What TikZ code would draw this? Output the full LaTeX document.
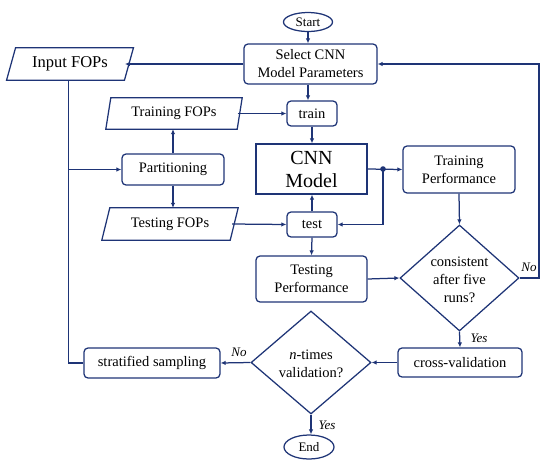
\documentclass[tikz,border=0pt]{standalone}
\usepackage{fontspec}
\setmainfont{Liberation Serif}
\usetikzlibrary{shapes.geometric,arrows.meta}
\definecolor{lc}{RGB}{30,52,118}
\tikzset{
  base/.style={draw=lc, line width=1.25pt, align=center, inner sep=0pt, text=black},
  rbox/.style={base, rounded corners=4pt},
  sbox/.style={base},
  oval/.style={base, ellipse},
  dia/.style={draw=lc, line width=1.25pt, diamond, inner sep=0pt},
  parabox/.style={align=center, inner sep=0pt},
  line/.style={draw=lc, line width=1.25pt},
  arr/.style={line, -{Latex[length=5pt,width=4.5pt]}},
  lab/.style={font=\fontsize{13}{15}\selectfont\itshape, inner sep=1pt},
  txt/.style={font=\fontsize{14.5}{18}\selectfont}
}
\begin{document}
\begin{tikzpicture}[x=1pt,y=-1pt]
\useasboundingbox (0,0) rectangle (550,467);
% nodes
\node[oval, minimum width=49, minimum height=19, font=\fontsize{13}{15}\selectfont] (start) at (308,22) {Start};
\node[rbox, txt, minimum width=133, minimum height=40] (sel) at (310.5,64) {Select CNN\\Model Parameters};
\node[parabox, minimum width=117.5, minimum height=32, font=\fontsize{16.5}{19}\selectfont] (inp) at (70,64) {Input FOPs};
\node[parabox, txt, minimum width=131, minimum height=31] (trf) at (174,113.5) {Training FOPs};
\node[parabox, txt, minimum width=128, minimum height=32] (tsf) at (170,224) {Testing FOPs};
\node[rbox, txt, minimum width=50, minimum height=25] (train) at (312,113.5) {train};
\node[sbox, minimum width=111, minimum height=50, font=\fontsize{20}{23}\selectfont] (cnn) at (311.5,169) {CNN\\Model};
\node[rbox, txt, minimum width=102, minimum height=31] (part) at (173,169.5) {Partitioning};
\node[rbox, txt, minimum width=50, minimum height=25] (test) at (312,224.5) {test};
\node[rbox, txt, minimum width=112, minimum height=47] (trp) at (459,169.5) {Training\\Performance};
\node[rbox, txt, minimum width=111, minimum height=46] (tsp) at (311.5,279) {Testing\\Performance};
\node[dia, minimum width=119, minimum height=106] (d1) at (459.5,278) {};
\node[txt, align=center, inner sep=0pt] (d1t) at (459.5,280) {consistent\\after five\\runs?};
\node[rbox, txt, minimum width=124, minimum height=29] (cv) at (460,362.5) {cross-validation};
\node[dia, minimum width=120, minimum height=103] (d2) at (311,362.5) {};
\node[txt, align=center, inner sep=0pt] (d2t) at (311,364) {\textit{n}-times\\validation?};
\node[rbox, txt, minimum width=136, minimum height=30] (ss) at (152,363) {stratified sampling};
\node[oval, minimum width=50, minimum height=24, font=\fontsize{13}{15}\selectfont] (end) at (309,447) {End};
% parallelograms
\draw[line] ([xshift=4.5pt]inp.north west) -- ([xshift=4.5pt]inp.north east) -- ([xshift=-4.5pt]inp.south east) -- ([xshift=-4.5pt]inp.south west) -- cycle;
\draw[line] ([xshift=2.5pt]trf.north west) -- ([xshift=2.5pt]trf.north east) -- ([xshift=-2.5pt]trf.south east) -- ([xshift=-2.5pt]trf.south west) -- cycle;
\draw[line] ([xshift=4pt]tsf.north west) -- ([xshift=4pt]tsf.north east) -- ([xshift=-4pt]tsf.south east) -- ([xshift=-4pt]tsf.south west) -- cycle;
% coordinates
\coordinate (dot) at (383,169);
\coordinate (rr) at (539,278);
\coordinate (ll) at (68.5,363);
% connectors
\draw[arr] (start.south) -- (start.south |- sel.north);
\draw[arr] (sel.west) -- ([xshift=-4pt]inp.east);
\draw[arr] (sel.south -| start.south) -- (start.south |- train.north);
\draw[arr] (train.south) -- (train.south |- cnn.north);
\draw[arr] (test.north) -- (test.north |- cnn.south);
\draw[arr] ([xshift=-2pt]trf.east) -- (train.west);
\draw[arr] ([xshift=-2pt]tsf.east) -- (test.west);
\draw[arr] (part.north) -- (part.north |- trf.south);
\draw[arr] (part.south) -- (part.south |- tsf.north);
\draw[line] (ll |- inp.south) -- (ll) -- (ss.west);
\draw[arr] (ll |- part.west) -- (part.west);
\draw[arr] (cnn.east) -- (trp.west);
\fill[lc] (dot) circle (2.8pt);
\draw[arr] (dot) |- (test.east);
\draw[arr] (trp.south) -- (d1.north);
\draw[arr] (test.south) -- (tsp.north);
\draw[arr] (tsp.east) -- (d1.west);
\draw[arr] (d1.east) -- (rr) |- (sel.east);
\draw[arr] (d1.south) -- (cv.north);
\draw[arr] (cv.west) -- (d2.east);
\draw[arr] (d2.west) -- (ss.east);
\draw[arr] (d2.south) -- (d2.south |- end.north);
% labels
\node[lab] (no1) at (529,267) {No};
\node[lab] (yes1) at (479,338) {Yes};
\node[lab] (no2) at (239,352) {No};
\node[lab] (yes2) at (327,425) {Yes};
\end{tikzpicture}
\end{document}
